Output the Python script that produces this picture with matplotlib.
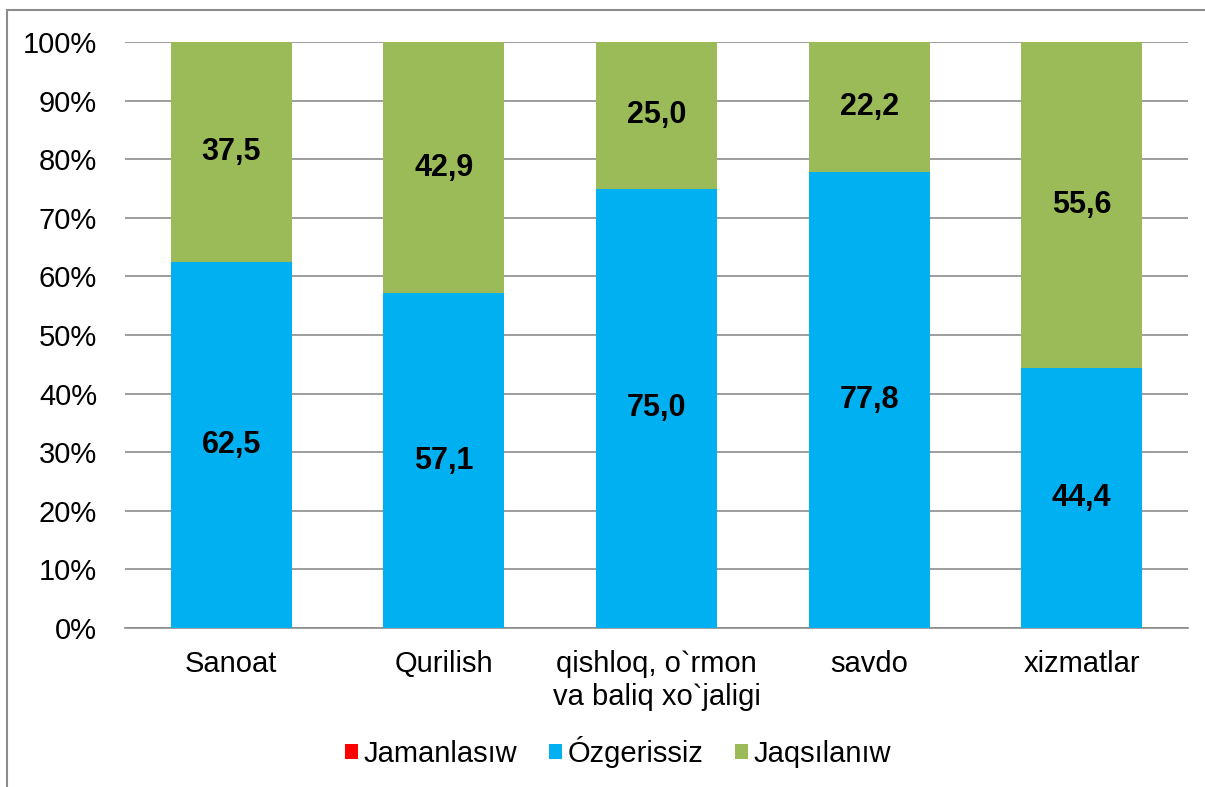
import matplotlib.pyplot as plt
import matplotlib.patches as patches
import numpy as np

plt.rcParams['font.family'] = ['Liberation Sans', 'DejaVu Sans']

categories = ["Sanoat", "Qurilish", "qishloq, o`rmon\nva baliq xo`jaligi", "savdo", "xizmatlar"]
jamanlasiw = [0, 0, 0, 0, 0]
ozgerissiz = [62.5, 57.1, 75.0, 77.8, 44.4]
jaqsilaniw = [37.5, 42.9, 25.0, 22.2, 55.6]

fig = plt.figure(figsize=(12.05, 7.87), dpi=100)
ax = fig.add_axes([125 / 1205, 1 - 628 / 787, (1188 - 125) / 1205, (628 - 42) / 787])

# outer frame of the chart
fig.patches.append(patches.Rectangle((7 / 1205, -0.01), 1.02, 1 - 10 / 787 + 0.01,
                                     transform=fig.transFigure, fill=False,
                                     edgecolor="#8c8c8c", linewidth=1.5))

x = np.arange(len(categories))
w = 0.57
red, blue, green = "#FF0000", "#00B0F0", "#9BBB59"

ax.bar(x, jamanlasiw, w, color=red, label="Jamanlasıw", zorder=3)
ax.bar(x, ozgerissiz, w, bottom=jamanlasiw, color=blue, label="Ózgerissiz", zorder=3)
bottom2 = np.array(jamanlasiw) + np.array(ozgerissiz)
ax.bar(x, jaqsilaniw, w, bottom=bottom2, color=green, label="Jaqsılanıw", zorder=3)

for i in range(len(categories)):
    ax.text(x[i], jamanlasiw[i] + ozgerissiz[i] / 2, f"{ozgerissiz[i]:.1f}".replace(".", ","),
            ha="center", va="center", fontsize=22, fontweight="bold", zorder=4)
    ax.text(x[i], bottom2[i] + jaqsilaniw[i] / 2, f"{jaqsilaniw[i]:.1f}".replace(".", ","),
            ha="center", va="center", fontsize=22, fontweight="bold", zorder=4)

ax.set_xlim(-0.5, len(categories) - 0.5)
ax.set_ylim(0, 100)
ax.set_yticks(range(0, 101, 10))
ax.set_yticklabels([f"{v}%" for v in range(0, 101, 10)])
ax.set_xticks(x)
ax.set_xticklabels(categories)
ax.tick_params(axis="both", length=0, labelsize=21)
ax.tick_params(axis="y", pad=20)
ax.tick_params(axis="x", pad=16)
ax.grid(axis="y", color="#8c8c8c", linewidth=1.2, zorder=0)
for s in ["top", "right", "left"]:
    ax.spines[s].set_visible(False)
ax.spines["bottom"].set_color("#8c8c8c")
ax.spines["bottom"].set_linewidth(1.2)

fig.legend(loc="center", bbox_to_anchor=(618 / 1205, 1 - 752 / 787), ncol=3, frameon=False,
           fontsize=21, handlelength=0.45, handleheight=0.45, handletextpad=0.17, columnspacing=1.1)

fig.savefig("out.png", dpi=100)
